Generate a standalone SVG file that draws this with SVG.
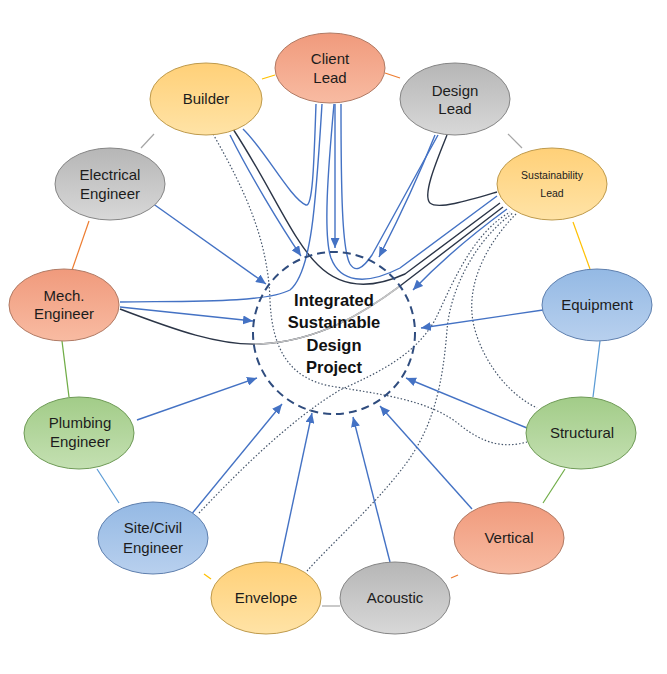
<svg xmlns="http://www.w3.org/2000/svg" width="667" height="674" viewBox="0 0 667 674">
<defs>
<linearGradient id="gSalmon" x1="0" y1="0" x2="0" y2="1"><stop offset="0" stop-color="#F09A7C"/><stop offset="1" stop-color="#F8BBA2"/></linearGradient>
<linearGradient id="gYellow" x1="0" y1="0" x2="0" y2="1"><stop offset="0" stop-color="#FFD078"/><stop offset="1" stop-color="#FFE3A6"/></linearGradient>
<linearGradient id="gGray" x1="0" y1="0" x2="0" y2="1"><stop offset="0" stop-color="#B6B6B6"/><stop offset="1" stop-color="#D8D8D8"/></linearGradient>
<linearGradient id="gBlue" x1="0" y1="0" x2="0" y2="1"><stop offset="0" stop-color="#94B9E4"/><stop offset="1" stop-color="#B8D0EE"/></linearGradient>
<linearGradient id="gGreen" x1="0" y1="0" x2="0" y2="1"><stop offset="0" stop-color="#A2CC88"/><stop offset="1" stop-color="#C4E0B2"/></linearGradient>
<marker id="arr" markerUnits="userSpaceOnUse" markerWidth="11" markerHeight="9" refX="10" refY="4.5" orient="auto"><path d="M0,0 L10,4.5 L0,9 z" fill="#4472C4"/></marker>
<clipPath id="inCircle"><circle cx="334" cy="333" r="80"/></clipPath>
<style>
.lbl{font-family:"Liberation Sans",Arial,sans-serif;font-size:15px;fill:#1c1c1c;text-anchor:middle}
.small{font-size:10.5px}
.ctr{font-family:"Liberation Sans",Arial,sans-serif;font-size:16.5px;font-weight:bold;fill:#111;text-anchor:middle}
.sal{fill:url(#gSalmon);stroke:#B07A64;stroke-width:1}
.yel{fill:url(#gYellow);stroke:#BE9A4C;stroke-width:1}
.gry{fill:url(#gGray);stroke:#858585;stroke-width:1}
.blu{fill:url(#gBlue);stroke:#5E7FAE;stroke-width:1}
.grn{fill:url(#gGreen);stroke:#6E9A56;stroke-width:1}
.ring{fill:none;stroke-width:1.2}
.arrow{fill:none;stroke:#4472C4;stroke-width:1.4;marker-end:url(#arr)}
.blue{fill:none;stroke:#4472C4;stroke-width:1.4}
.dark{fill:none;stroke:#2B3547;stroke-width:1.4}
.dot{fill:none;stroke:#44546A;stroke-width:1.2;stroke-dasharray:1.5 2}
</style>
</defs>
<rect width="667" height="674" fill="#fff"/>
<g id="connectors">
<!-- ring links -->
<line class="ring" x1="262" y1="79" x2="275" y2="75" stroke="#FFC000"/>
<line class="ring" x1="385" y1="73" x2="400" y2="78" stroke="#ED7D31"/>
<line class="ring" x1="508" y1="134" x2="522" y2="148" stroke="#A5A5A5"/>
<line class="ring" x1="573" y1="222" x2="590" y2="269" stroke="#FFC000"/>
<line class="ring" x1="600" y1="341" x2="593" y2="397" stroke="#5B9BD5"/>
<line class="ring" x1="565" y1="469" x2="543" y2="503" stroke="#70AD47"/>
<line class="ring" x1="451" y1="578" x2="458" y2="575" stroke="#ED7D31"/>
<line class="ring" x1="322" y1="606" x2="340" y2="606" stroke="#A5A5A5"/>
<line class="ring" x1="204" y1="574" x2="211" y2="579" stroke="#FFC000"/>
<line class="ring" x1="97" y1="469" x2="119" y2="503" stroke="#5B9BD5"/>
<line class="ring" x1="62" y1="341" x2="69" y2="397" stroke="#70AD47"/>
<line class="ring" x1="72" y1="270" x2="89" y2="221" stroke="#ED7D31"/>
<line class="ring" x1="141" y1="148" x2="154" y2="134" stroke="#A5A5A5"/>
<!-- dotted links -->
<path class="dot" d="M213,134 C245,190 268,240 270,300 C272,350 290,378 330,386 C380,394 430,400 460,425 C485,445 505,448 527,442"/>
<path class="dot" d="M199,513 C240,470 290,420 340,390 C380,372 415,355 435,320 C450,290 470,235 510,212"/>
<path class="dot" d="M307,571 C330,545 375,505 405,465 C435,425 443,380 447,330 C450,290 475,240 513,213"/>
<path class="dot" d="M516,214 C490,240 462,285 475,330 C485,365 510,395 537,408"/>
<!-- dark links -->
<path class="dark" d="M120,309 C175,330 220,346 260,344 C320,341 365,312 400,286 L503,207"/>
<path d="M120,309 C175,330 220,346 260,344 C320,341 365,312 400,286 L503,207" fill="none" stroke="#C4C4C4" stroke-width="1.6" clip-path="url(#inCircle)"/>
<path class="dark" d="M233,129 C270,185 292,240 318,265 C338,285 365,292 405,274 L500,203"/>
<path class="dark" d="M447,135 C437,160 422,195 430,203 C438,210 470,200 497,192"/>
<!-- blue links -->
<path class="blue" d="M243,129 C265,150 290,198 306,205 C313,207 314,160 316,104"/>
<path class="blue" d="M120,302 C190,301 265,303 290,290 C312,272 316,200 322,104"/>
<path class="blue" d="M341,104 C341,190 342,250 350,264 C355,272 362,270 372,255 L438,135"/>
<path class="blue" d="M334,104 C328,170 323,235 331,258 C340,282 365,286 400,268 L497,196"/>
<!-- arrows to centre -->
<path class="arrow" d="M152,203 L266,284"/>
<path class="arrow" d="M120,307 L253,321"/>
<path class="arrow" d="M137,420 L257,378"/>
<path class="arrow" d="M190,516 L282,404"/>
<path class="arrow" d="M280,563 L312,413"/>
<path class="arrow" d="M390,562 L353,417"/>
<path class="arrow" d="M472,509 L380,406"/>
<path class="arrow" d="M527,428 L406,378"/>
<path class="arrow" d="M543,310 L421,328"/>
<path class="arrow" d="M507,209 C470,236 440,262 413,290"/>
<path class="arrow" d="M435,135 C418,178 397,222 379,257"/>
<path class="arrow" d="M335,104 L335,248"/>
<path class="arrow" d="M230,135 C250,175 280,225 301,256"/>
</g>
<g id="center">
<circle cx="334" cy="333" r="81" fill="none" stroke="#2F4C7E" stroke-width="2" stroke-dasharray="8 5"/>
<text class="ctr" x="334" y="306">Integrated</text>
<text class="ctr" x="334" y="328">Sustainable</text>
<text class="ctr" x="334" y="351">Design</text>
<text class="ctr" x="334" y="373">Project</text>
</g>
<g id="client-lead"><ellipse class="sal" cx="330" cy="68" rx="55" ry="35"/><text class="lbl" x="330" y="64">Client</text><text class="lbl" x="330" y="83">Lead</text></g>
<g id="builder"><ellipse class="yel" cx="206" cy="99" rx="56" ry="36"/><text class="lbl" x="206" y="104">Builder</text></g>
<g id="design-lead"><ellipse class="gry" cx="455" cy="99" rx="55" ry="36"/><text class="lbl" x="455" y="96">Design</text><text class="lbl" x="455" y="114">Lead</text></g>
<g id="sustainability-lead"><ellipse class="yel" cx="552" cy="184" rx="55" ry="36"/><text class="lbl small" x="552" y="179">Sustainability</text><text class="lbl small" x="552" y="197">Lead</text></g>
<g id="electrical-engineer"><ellipse class="gry" cx="110" cy="184" rx="55" ry="36"/><text class="lbl" x="110" y="180">Electrical</text><text class="lbl" x="110" y="199">Engineer</text></g>
<g id="mech-engineer"><ellipse class="sal" cx="64" cy="305" rx="55" ry="36"/><text class="lbl" x="64" y="301">Mech.</text><text class="lbl" x="64" y="319">Engineer</text></g>
<g id="plumbing-engineer"><ellipse class="grn" cx="79" cy="433" rx="55" ry="36"/><text class="lbl" x="80" y="428">Plumbing</text><text class="lbl" x="80" y="447">Engineer</text></g>
<g id="site-civil-engineer"><ellipse class="blu" cx="153" cy="538" rx="55" ry="36"/><text class="lbl" x="153" y="533">Site/Civil</text><text class="lbl" x="153" y="553">Engineer</text></g>
<g id="envelope"><ellipse class="yel" cx="266" cy="598" rx="55" ry="36"/><text class="lbl" x="266" y="603">Envelope</text></g>
<g id="acoustic"><ellipse class="gry" cx="395" cy="598" rx="55" ry="36"/><text class="lbl" x="395" y="603">Acoustic</text></g>
<g id="vertical"><ellipse class="sal" cx="509" cy="538" rx="55" ry="36"/><text class="lbl" x="509" y="543">Vertical</text></g>
<g id="structural"><ellipse class="grn" cx="581" cy="433" rx="55" ry="36"/><text class="lbl" x="582" y="438">Structural</text></g>
<g id="equipment"><ellipse class="blu" cx="597" cy="305" rx="55" ry="36"/><text class="lbl" x="597" y="310">Equipment</text></g>
</svg>
